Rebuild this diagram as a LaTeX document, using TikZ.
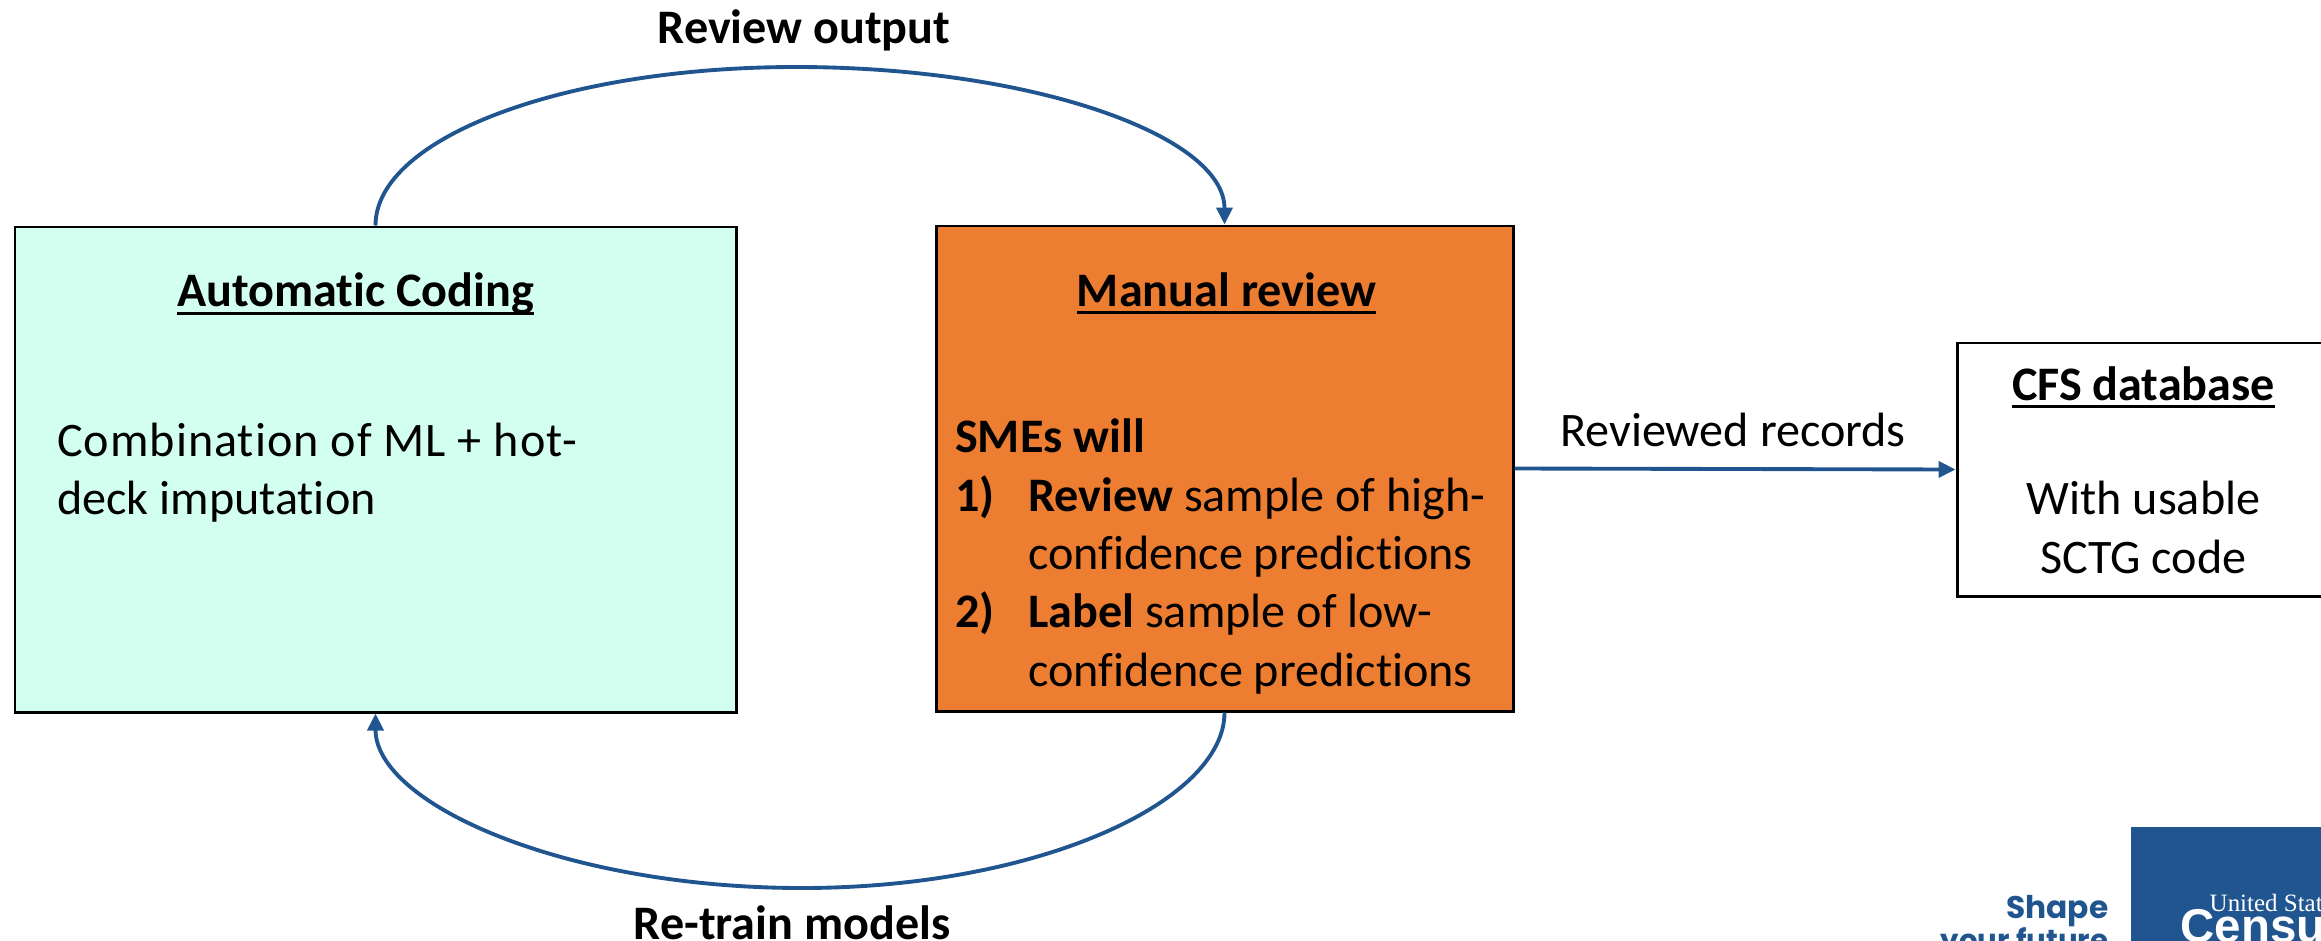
\documentclass[tikz,border=0pt]{standalone}
\usepackage{xcolor}
\usepackage{fontspec}
\setmainfont[Ligatures=CommonOff]{Carlito}
\newfontfamily\logoserif{Liberation Serif}
\newfontfamily\logosans{Liberation Sans}
\newfontfamily\logoshape{Poppins}
\usepackage{tikz}
\usetikzlibrary{arrows.meta,positioning}
\definecolor{flowblue}{HTML}{20558F}
\definecolor{autofill}{HTML}{D3FFF1}
\definecolor{manualfill}{HTML}{ED7D31}
\newlength{\titlew}
\newcommand{\numbox}[1]{\makebox[0.73cm][l]{\textbf{#1}}}
\newcommand{\titleline}[1]{\settowidth{\titlew}{#1}#1\llap{\rule[-2.3pt]{\titlew}{0.75pt}}}

\begin{document}
\begin{tikzpicture}[
                    stage/.style={draw=black, line width=0.85pt, rectangle, inner sep=0pt},
                    boxtext/.style={font=\fontsize{13.7}{16.6}\selectfont, inner sep=0pt, align=left},
                    boxtitle/.style={font=\fontsize{13.7}{16.6}\selectfont\bfseries, inner sep=0pt},
                    curve/.style={flowblue, line width=1.1pt},
                    flow/.style={-{Triangle[length=1.7mm,width=1.6mm]}, flowblue, line width=1.1pt},
                    note/.style={font=\fontsize{13.7}{16.6}\selectfont, inner sep=0pt}
                ]
                    \useasboundingbox (0,0) rectangle (23.21,9.40);
                    \clip (0,0) rectangle (23.21,9.40);

                    % Stages
                    \node[stage, fill=autofill, minimum width=7.21cm, minimum height=4.85cm] (Auto) at (3.755,4.705) {};
                    \node[stage, fill=manualfill, minimum width=5.77cm, minimum height=4.85cm] (Manual) at (12.245,4.715) {};
                    \node[stage, fill=white, minimum width=3.73cm, minimum height=2.53cm] (CFS) at (21.435,4.705) {};

                    % Texts in the stages
                    \node[boxtitle, below=0.47cm of Auto.north, xshift=-0.2cm] (AutoTitle) {\titleline{Automatic Coding}};
                    \node[boxtext, right=0.43cm of Auto.west, yshift=-0.03cm] (AutoBody) {{\addfontfeature{LetterSpace=2.1}Combination of ML + hot-}\\deck imputation};
                    \node[boxtitle, below=0.47cm of Manual.north, xshift=0.02cm] (ManualTitle) {\titleline{Manual review}};
                    \node[boxtext, right=0.2cm of Manual.west, yshift=-0.88cm] (ManualBody) {\textbf{SMEs will}\\\numbox{1)}\textbf{Review} sample of high-\\\hspace*{0.73cm}confidence predictions\\\numbox{2)}\textbf{Label} sample of low-\\\hspace*{0.73cm}confidence predictions};
                    \node[boxtitle, below=0.24cm of CFS.north] (CFSTitle) {\titleline{CFS database}};
                    \node[boxtext, align=center, below=0.72cm of CFSTitle] (CFSBody) {With usable\\SCTG code};

                    % Flows
                    \coordinate (TopMid) at (7.96,8.73);
                    \coordinate (BottomMid) at (8.02,0.52);
                    \draw[curve] (Auto.north) to[out=90, in=180, out looseness=0.5, in looseness=1.32] (TopMid);
                    \draw[flow] (TopMid) to[out=0, in=90, out looseness=1.32, in looseness=0.5] (Manual.north);
                    \draw[curve] (Manual.south) to[out=-90, in=0, out looseness=0.5, in looseness=1.32] (BottomMid);
                    \draw[flow] (BottomMid) to[out=180, in=-90, out looseness=1.32, in looseness=0.5] (Auto.south);
                    \draw[flow] (Manual.east) -- (CFS.west);

                    % Labels
                    \node[boxtitle] (ReviewLabel) at (8.04,9.10) {Review output};
                    \node[boxtitle] (RetrainLabel) at (7.92,0.17) {Re-train models};
                    \node[note] (RecordsLabel) at (17.33,5.1) {Reviewed records};

                    % Logo
                    \node[fill=flowblue, anchor=north west, minimum width=2.1cm, minimum height=1.3cm, inner sep=0pt] (LogoBox) at (21.30,1.14) {};
                    \node[anchor=base west, inner sep=0pt, text=white, font=\logoserif\fontsize{7.1}{8}\selectfont] (LogoUS) at (22.09,0.29) {United States};
                    \node[anchor=base west, inner sep=0pt, text=white, font=\logosans\bfseries\fontsize{13.5}{14}\selectfont] (LogoCensus) at (21.80,-0.02) {Census};
                    \node[anchor=base east, inner sep=0pt, text=flowblue, font=\logoshape\bfseries\fontsize{8.9}{10}\selectfont] (LogoShape) at (21.09,0.22) {Shape};
                    \node[anchor=base east, inner sep=0pt, text=flowblue, font=\logoshape\bfseries\fontsize{8.3}{10}\selectfont] (LogoFuture) at (21.09,-0.10) {your future};
                \end{tikzpicture}
\end{document}
